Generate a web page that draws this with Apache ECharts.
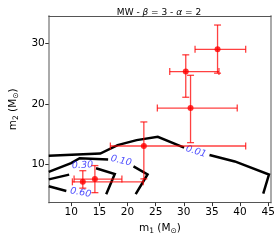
<!DOCTYPE html>
<html><head><meta charset="utf-8">
<script src="https://cdn.jsdelivr.net/npm/echarts@6/dist/echarts.min.js"></script>
<style>html,body{margin:0;padding:0;background:#fff}#c{width:280px;height:240px}</style>
</head><body><div id="c"></div>
<script>
// ---- data ----
const m1    = [36.0, 30.35, 31.2, 22.9, 14.2, 12.05];
const m1Lo  = [32.0, 27.5, 25.3, 16.95, 10.5, 10.2];
const m1Hi  = [41.0, 36.25, 39.5, 41.0, 19.0, 22.8];
const m2    = [29.07, 25.36, 19.3, 13.0, 7.5, 7.05];
const m2Lo  = [25.1, 21.1, 13.56, 7.54, 5.25, 6.0];
const m2Hi  = [33.1, 28.15, 24.75, 17.0, 9.75, 8.9];

const contour001a = [[6.0,11.39],[15.15,11.75],[18.24,13.16],[21.62,13.98],[25.38,14.54],[30.06,12.74]];
const contour001b = [[34.57,11.52],[39.06,10.44],[45.14,8.25],[44.12,5.08]];
const contour010a = [[6.0,8.69],[9.97,10.16],[11.49,10.98],[16.55,10.74]];
const contour010b = [[21.06,9.62],[23.56,8.28],[21.45,5.0]];
const contour030a = [[6.0,7.46],[9.63,8.25]];
const contour030b = [[14.4,9.3],[17.73,8.36],[16.21,5.0]];
const contour060a = [[6.0,6.31],[9.12,5.52]];

const levelLabels = ['0.01','0.10','0.30','0.60'];
const levelLabelPos = [[32.17,12.08],[18.86,10.54],[12.0,9.79],[11.66,5.25]];
const levelLabelRot = [-18,-13,3,-10];

const xTicks = [10,15,20,25,30,35,40,45];
const yTicks = [10,20,30];

// ---- chart ----
const chart = echarts.init(document.getElementById('c'), null, {renderer:'canvas'});
const font = 'DejaVu Sans';
const lineSeries = (d) => ({type:'line', data:d, symbol:'none', silent:true,
  lineStyle:{color:'#000', width:2.5, cap:'butt', join:'miter'}, z:2, animation:false});

const errData = m1.map((v,i)=>[v, m2[i], m1Lo[i], m1Hi[i], m2Lo[i], m2Hi[i]]);

const option = {
  animation:false,
  title:{text:'MW - {i|β} = 3 - {i|α} = 2', left:154, top:3, textAlign:'center',
    textStyle:{fontFamily:font, fontSize:9, fontWeight:'normal', color:'#000',
      rich:{i:{fontFamily:font, fontSize:9, fontStyle:'italic', color:'#000'}}}},
  grid:{left:37.5, right:9, top:16, bottom:35},
  xAxis:[{type:'value', min:6, max:45.5, position:'bottom',
    name:'{a|m}{s|1}{a| (M}{s|⊙}{a|)}', nameLocation:'middle', nameGap:18,
    nameTextStyle:{rich:{a:{fontFamily:font,fontSize:10.5,color:'#000'},s:{fontFamily:font,fontSize:7.5,color:'#000',verticalAlign:'bottom',padding:[6,0,0,0]}}},
    splitLine:{show:false},
    axisLine:{show:true, lineStyle:{color:'#555', width:1}},
    axisTick:{show:true, length:3.5, customValues:xTicks, lineStyle:{color:'#333'}},
    axisLabel:{customValues:xTicks, fontFamily:font, fontSize:10.5, color:'#000', margin:4}},
   {type:'value', min:6, max:45.5, position:'top', axisLine:{show:true,lineStyle:{color:'#555',width:1}},
    axisTick:{show:false}, axisLabel:{show:false}, splitLine:{show:false}}],
  yAxis:[{type:'value', min:3.6, max:34.6, position:'left',
    name:'{a|m}{s|2}{a| (M}{s|⊙}{a|)}', nameLocation:'middle', nameGap:21, nameRotate:90,
    nameTextStyle:{rich:{a:{fontFamily:font,fontSize:10.5,color:'#000'},s:{fontFamily:font,fontSize:7.5,color:'#000',verticalAlign:'bottom',padding:[6,0,0,0]}}},
    splitLine:{show:false},
    axisLine:{show:true, lineStyle:{color:'#aaa', width:2}},
    axisTick:{show:true, length:3.5, customValues:yTicks, lineStyle:{color:'#333'}},
    axisLabel:{customValues:yTicks, fontFamily:font, fontSize:10.5, color:'#000', margin:4}},
   {type:'value', min:3.6, max:34.6, position:'right', axisLine:{show:true,lineStyle:{color:'#aaa',width:2}},
    axisTick:{show:false}, axisLabel:{show:false}, splitLine:{show:false}}],
  series:[
    lineSeries(contour001a), lineSeries(contour001b),
    lineSeries(contour010a), lineSeries(contour010b),
    lineSeries(contour030a), lineSeries(contour030b),
    lineSeries(contour060a),
    ...levelLabels.map((t,i)=>({type:'scatter', data:[levelLabelPos[i]], symbolSize:0, silent:true, z:3,
      label:{show:true, position:'inside', formatter:t, rotate:levelLabelRot[i], fontFamily:font,
        fontSize:9.5, fontStyle:'italic', color:'#1a1aff'}})),
    {type:'custom', data:errData, z:4, silent:true,
      renderItem:function(params, api){
        const x=api.value(0), y=api.value(1);
        const c=api.coord([x,y]);
        const l=api.coord([api.value(2),y]), r=api.coord([api.value(3),y]);
        const b=api.coord([x,api.value(4)]), t=api.coord([x,api.value(5)]);
        const cap=3.5;
        const st={stroke:'rgba(255,0,0,0.75)', lineWidth:1.3};
        const ln=(x1,y1,x2,y2)=>({type:'line', shape:{x1,y1,x2,y2}, style:st});
        return {type:'group', children:[
          ln(l[0],c[1],r[0],c[1]), ln(c[0],b[1],c[0],t[1]),
          ln(l[0],c[1]-cap,l[0],c[1]+cap), ln(r[0],c[1]-cap,r[0],c[1]+cap),
          ln(c[0]-cap,b[1],c[0]+cap,b[1]), ln(c[0]-cap,t[1],c[0]+cap,t[1])
        ]};
      }},
    {type:'scatter', data:m1.map((v,i)=>[v,m2[i]]), symbolSize:6, z:5, silent:true,
      itemStyle:{color:'#ff0000'}}
  ]
};
chart.setOption(option);
</script></body></html>
